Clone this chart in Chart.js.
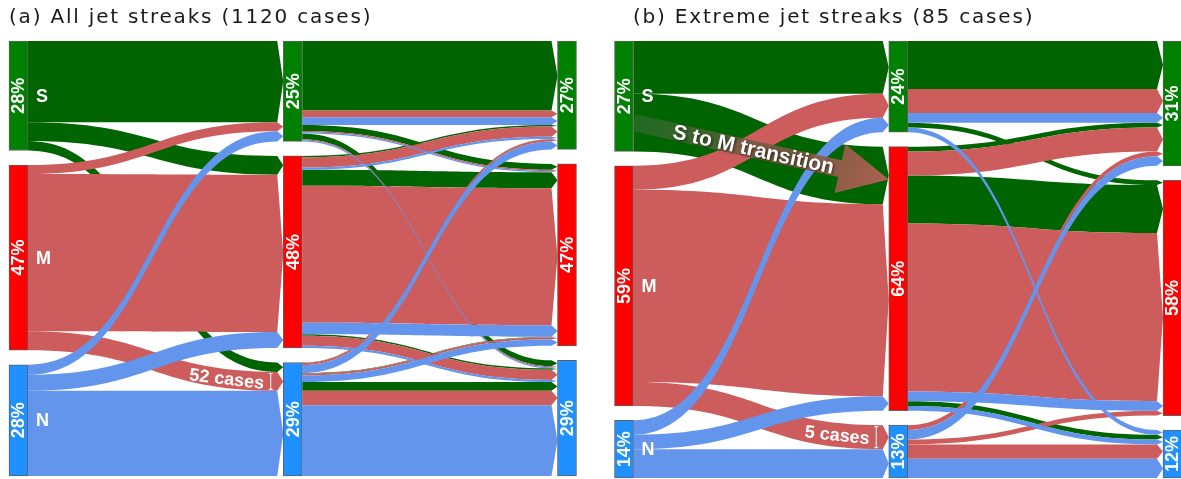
<!DOCTYPE html>
<html>
<head>
<meta charset="utf-8">
<script src="https://cdn.jsdelivr.net/npm/chart.js@4.4.1/dist/chart.umd.min.js"></script>
<style>
  html, body { margin: 0; padding: 0; background: #fff; overflow: hidden; }
  #wrapA { position: absolute; left: 0; top: 0; }
  #wrapB { position: absolute; left: 605px; top: 0; }
</style>
</head>
<body>
<div id="wrapA"><canvas id="chartA" width="590" height="479"></canvas></div>
<div id="wrapB"><canvas id="chartB" width="576" height="479"></canvas></div>
<script>
// jet streak states and the three time steps
const states = ['S', 'M', 'N'];
const stages = [0, 1, 2];

// (a) all jet streaks, number of cases
const titleA = '(a) All jet streaks (1120 cases)';
// first step: row = state at step 0, col = state at step 1
const stepA1 = [[224, 52, 26], [25, 434, 52], [28, 44, 235]];
// second step, split by the state at step 0: row = state at step 1, col = state at step 2
const stepA2fromS = [[192, 16, 16], [4, 44, 4], [1, 1, 24]];
const stepA2fromM = [[18, 4, 3], [28, 378, 28], [6, 6, 40]];
const stepA2fromN = [[22, 3, 3], [6, 32, 6], [22, 18, 195]];
const pctA = [['28%', '47%', '28%'], ['25%', '48%', '29%'], ['27%', '47%', '29%']];

// (b) extreme jet streaks
const titleB = '(b) Extreme jet streaks (85 cases)';
const stepB1 = [[11, 12, 0], [5, 40, 5], [3, 3, 6]];
const stepB2fromS = [[10, 1, 0], [1, 10, 1], [0, 0, 0]];
const stepB2fromM = [[5, 0, 0], [5, 35, 0], [1, 1, 3]];
const stepB2fromN = [[2, 0, 1], [0, 2, 1], [2, 0, 4]];
const pctB = [['27%', '59%', '14%'], ['24%', '64%', '13%'], ['31%', '58%', '12%']];

const ribbonColors = ['#006400', '#cd5c5c', '#6495ed'];
const nodeColors = ['#008000', '#ff0000', '#1e90ff'];

const sum = a => a.reduce((p, q) => p + q, 0);

function buildLayout(step1, step2, gap) {
  const value = [
    step1.map(r => sum(r)),
    states.map((_, j) => sum(step1.map(r => r[j]))),
    states.map((_, k) => sum(step2.map(m => sum(m.map(r => r[k])))))
  ];
  const start = value.map(col => {
    let y = 0;
    return col.map(v => { const s = y; y += v + gap; return s; });
  });
  const links = [];
  const out0 = [0, 0, 0], in1 = [0, 0, 0];
  step1.forEach((row, i) => row.forEach((v, j) => {
    if (v > 0) links.push({ stage: 0, from: i, to: j, color: i, value: v,
      sy: start[0][i] + out0[i], ty: start[1][j] + in1[j] });
    out0[i] += v; in1[j] += v;
  }));
  const out1 = [0, 0, 0], in2 = [0, 0, 0];
  for (let j = 0; j < 3; j++) {
    for (let k = 0; k < 3; k++) {
      for (let o = 0; o < 3; o++) {
        const v = step2[o][j][k];
        if (v > 0) links.push({ stage: 1, from: j, to: k, color: o, value: v,
          sy: start[1][j] + out1[j], ty: start[2][k] + in2[k] });
        out1[j] += v; in2[k] += v;
      }
    }
  }
  return { value, start, links };
}

function bez(p0, p1, p2, p3, t) {
  const u = 1 - t;
  return u * u * u * p0 + 3 * u * u * t * p1 + 3 * u * t * t * p2 + t * t * t * p3;
}
function dbez(p0, p1, p2, p3, t) {
  const u = 1 - t;
  return 3 * u * u * (p1 - p0) + 6 * u * t * (p2 - p1) + 3 * t * t * (p3 - p2);
}
// point on a link edge at pixel X
function curveAt(x0, xe, ya, yb, X) {
  const xm = (x0 + xe) / 2;
  let lo = 0, hi = 1;
  for (let n = 0; n < 40; n++) {
    const t = (lo + hi) / 2;
    if (bez(x0, xm, xm, xe, t) < X) lo = t; else hi = t;
  }
  const t = (lo + hi) / 2;
  return { y: bez(ya, ya, yb, yb, t),
    angle: Math.atan2(dbez(ya, ya, yb, yb, t), dbez(x0, xm, xm, xe, t)) };
}

function linkPixels(chart, l, half) {
  const { x, y } = chart.scales;
  return {
    x0: x.getPixelForValue(l.stage) + half,
    x1: x.getPixelForValue(l.stage + 1) - half,
    y0a: y.getPixelForValue(l.sy), y0b: y.getPixelForValue(l.sy + l.value),
    y1a: y.getPixelForValue(l.ty), y1b: y.getPixelForValue(l.ty + l.value)
  };
}

const flowPlugin = {
  id: 'flows',
  beforeDatasetsDraw(chart, args, opts) {
    const ctx = chart.ctx;
    // paint by step, then by colour of the starting state
    const links = opts.layout.links.slice().sort((a, b) => (a.stage - b.stage) || (a.color - b.color));
    ctx.save();
    links.forEach(l => {
      const p = linkPixels(chart, l, opts.nodeWidth / 2);
      const xe = p.x1 - opts.tip, xm = (p.x0 + xe) / 2;
      ctx.beginPath();
      ctx.moveTo(p.x0, p.y0a);
      ctx.bezierCurveTo(xm, p.y0a, xm, p.y1a, xe, p.y1a);
      ctx.lineTo(p.x1, (p.y1a + p.y1b) / 2);
      ctx.lineTo(xe, p.y1b);
      ctx.bezierCurveTo(xm, p.y1b, xm, p.y0b, p.x0, p.y0b);
      ctx.closePath();
      ctx.fillStyle = ribbonColors[l.color];
      ctx.fill();
    });
    ctx.restore();
  },
  afterDatasetsDraw(chart, args, opts) {
    const ctx = chart.ctx;
    const half = opts.nodeWidth / 2;
    ctx.save();
    ctx.fillStyle = '#fff';
    ctx.textBaseline = 'middle';
    // percentages inside the nodes, state names next to the first column
    chart.data.datasets.forEach((ds, c) => {
      chart.getDatasetMeta(c).data.forEach((bar, st) => {
        const cy = (bar.y + bar.base) / 2;
        ctx.save();
        ctx.translate(bar.x, cy);
        ctx.rotate(-Math.PI / 2);
        ctx.textAlign = 'center';
        ctx.font = 'bold 18px "Liberation Sans", Arial, sans-serif';
        ctx.fillText(opts.pct[st][c], 0, 1);
        ctx.restore();
        if (st === 0) {
          ctx.textAlign = 'left';
          ctx.font = 'bold 18px "Liberation Sans", Arial, sans-serif';
          ctx.fillText(states[c], bar.x + half + 8, cy + 1);
        }
      });
    });

    // "n cases" marker on one link
    if (opts.caseLabel) {
      const cl = opts.caseLabel;
      const l = opts.layout.links.find(k => k.stage === cl.stage && k.from === cl.from && k.to === cl.to);
      const p = linkPixels(chart, l, half);
      const xe = p.x1 - opts.tip;
      const X = p.x1 - 13;
      const top = curveAt(p.x0, xe, p.y0a, p.y1a, X).y;
      const bot = curveAt(p.x0, xe, p.y0b, p.y1b, X).y;
      ctx.strokeStyle = '#fff';
      ctx.lineWidth = 1;
      ctx.beginPath();
      ctx.moveTo(X + 0.5, top + 1); ctx.lineTo(X + 0.5, bot - 1);
      ctx.moveTo(X - 1.5, top + 1.5); ctx.lineTo(X + 2.5, top + 1.5);
      ctx.moveTo(X - 1.5, bot - 1.5); ctx.lineTo(X + 2.5, bot - 1.5);
      ctx.stroke();
      ctx.font = 'bold 18px "Liberation Sans", Arial, sans-serif';
      const text = l.value + ' cases';
      const w = ctx.measureText(text).width;
      const xc = X - 6 - w / 2;
      const a = curveAt(p.x0, xe, p.y0a, p.y1a, xc);
      const b = curveAt(p.x0, xe, p.y0b, p.y1b, xc);
      ctx.save();
      ctx.translate(xc, (a.y + b.y) / 2 + 1);
      ctx.rotate((a.angle + b.angle) / 2);
      ctx.textAlign = 'center';
      ctx.fillText(text, 0, 0);
      ctx.restore();
    }

    // big arrow along one link
    if (opts.arrow) {
      const ar = opts.arrow;
      const l = opts.layout.links.find(k => k.stage === ar.stage && k.from === ar.from && k.to === ar.to);
      const p = linkPixels(chart, l, half);
      const sx = p.x0, sy = (p.y0a + p.y0b) / 2;
      const ex = p.x1, ey = (p.y1a + p.y1b) / 2 + 4;
      const L = Math.hypot(ex - sx, ey - sy);
      const ang = Math.atan2(ey - sy, ex - sx);
      ctx.save();
      ctx.translate(sx, sy);
      ctx.rotate(ang);
      const g = ctx.createLinearGradient(0, 0, L, 0);
      g.addColorStop(0, 'rgba(60,110,60,0.55)');
      g.addColorStop(0.5, 'rgba(115,88,66,0.85)');
      g.addColorStop(1, 'rgba(182,96,86,0.95)');
      ctx.fillStyle = g;
      ctx.beginPath();
      ctx.moveTo(0, -8.5);
      ctx.lineTo(L - 50, -8.5);
      ctx.lineTo(L - 50, -25);
      ctx.lineTo(L, 0);
      ctx.lineTo(L - 50, 25);
      ctx.lineTo(L - 50, 8.5);
      ctx.lineTo(0, 8.5);
      ctx.closePath();
      ctx.fill();
      ctx.font = 'bold 21px "Liberation Sans", Arial, sans-serif';
      ctx.textAlign = 'center';
      ctx.shadowColor = 'rgba(0,0,0,0.6)';
      ctx.shadowBlur = 3;
      ctx.shadowOffsetX = 1;
      ctx.shadowOffsetY = 1;
      ctx.fillStyle = '#fff';
      ctx.fillText(ar.text, L * 0.47, 1);
      ctx.restore();
    }

    // panel title
    ctx.shadowColor = 'transparent';
    ctx.fillStyle = '#1a1a1a';
    ctx.textAlign = 'left';
    ctx.font = '20px "DejaVu Sans", sans-serif';
    ctx.letterSpacing = '1.8px';
    ctx.fillText(opts.title, opts.titleX, 18);
    ctx.restore();
  }
};

function makeChart(id, step1, step2, gap, pct, opts) {
  const layout = buildLayout(step1, step2, gap);
  const total = sum(layout.value[0]);
  const datasets = states.map((s, c) => ({
    label: s,
    data: stages.map(st => ({ x: st, y: [layout.start[st][c], layout.start[st][c] + layout.value[st][c]] })),
    backgroundColor: nodeColors[c],
    borderColor: '#5f5f5f',
    borderWidth: 1,
    borderSkipped: false,
    barThickness: 19,
    grouped: false,
    clip: false
  }));
  return new Chart(document.getElementById(id), {
    type: 'bar',
    data: { datasets },
    options: {
      responsive: false,
      animation: false,
      events: [],
      layout: { padding: opts.padding },
      scales: {
        x: { type: 'linear', display: false, offset: false, min: opts.xMin, max: opts.xMax },
        y: { type: 'linear', display: false, reverse: true, min: 0, max: total + 2 * gap }
      },
      plugins: {
        legend: { display: false },
        tooltip: { enabled: false },
        flows: Object.assign({ layout, pct, nodeWidth: 19, tip: 6 }, opts.flows)
      }
    },
    plugins: [flowPlugin]
  });
}

makeChart('chartA', stepA1, [stepA2fromS, stepA2fromM, stepA2fromN], 40, pctA, {
  padding: { left: 9, right: 13, top: 41, bottom: 3 },
  xMin: -0.0346, xMax: 2.0365,
  flows: { title: titleA, titleX: 9, caseLabel: { stage: 0, from: 1, to: 2 } }
});

makeChart('chartB', stepB1, [stepB2fromS, stepB2fromM, stepB2fromN], 3, pctB, {
  padding: { left: 9, right: 0, top: 41, bottom: 1 },
  xMin: -0.0365, xMax: 2.031,
  flows: { title: titleB, titleX: 28, caseLabel: { stage: 0, from: 1, to: 2 },
    arrow: { stage: 0, from: 0, to: 1, text: 'S to M transition' } }
});
</script>
</body>
</html>
